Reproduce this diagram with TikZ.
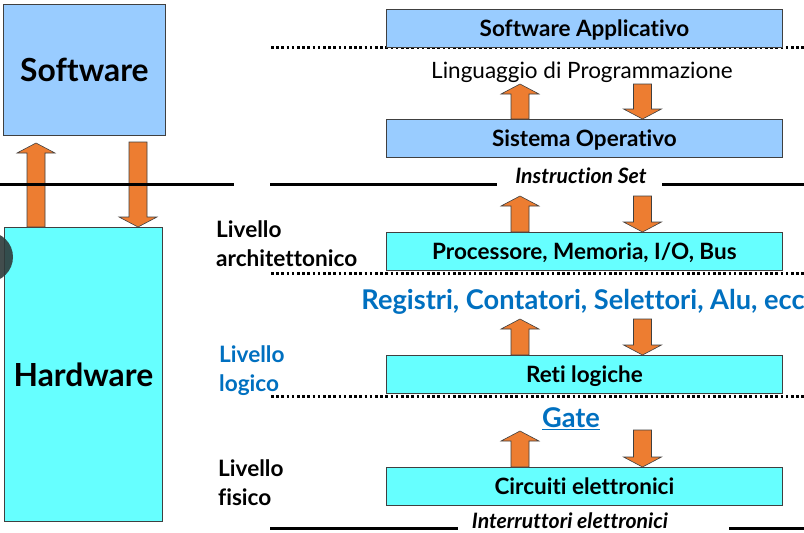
\documentclass[tikz,border=0pt]{standalone}
\usepackage{fontspec}
\setmainfont{Lato}[Ligatures=NoCommon]
\definecolor{swblue}{HTML}{99CCFF}
\definecolor{hwcyan}{HTML}{66FFFF}
\definecolor{arrorange}{HTML}{ED7D31}
\definecolor{txtblue}{HTML}{0070C0}
\definecolor{edgegray}{HTML}{404040}
\definecolor{blobgray}{HTML}{2E3A3A}
\tikzset{
 box/.style={draw=edgegray, line width=0.8pt, minimum width=396pt, minimum height=38pt, anchor=north west, inner sep=0pt, text height=18pt, text depth=2pt, font=\bfseries\fontsize{22.5}{26}\selectfont},
 swbox/.style={box, fill=swblue},
 hwbox/.style={box, fill=hwcyan},
 bigbox/.style={draw=edgegray, line width=0.8pt, anchor=north west, inner sep=0pt, font=\bfseries\fontsize{31.8}{36}\selectfont},
 blockarrow/.style={fill=arrorange, draw=edgegray, line width=0.6pt, line join=miter},
 dotline/.style={line width=2.6pt, dash pattern=on 2.6pt off 2.6pt},
 solidline/.style={line width=3pt},
 sidelabel/.style={anchor=north west, align=left, inner sep=0pt, font=\bfseries\fontsize{22.6}{29}\selectfont},
}
\newcommand\blkup[3]{\filldraw[blockarrow] (#1-9,#2) -- (#1-9,#3+10) -- (#1-19,#3+10) -- (#1,#3) -- (#1+19,#3+10) -- (#1+9,#3+10) -- (#1+9,#2) -- cycle;}
\newcommand\blkdown[3]{\filldraw[blockarrow] (#1-9,#2) -- (#1-9,#3-10) -- (#1-19,#3-10) -- (#1,#3) -- (#1+19,#3-10) -- (#1+9,#3-10) -- (#1+9,#2) -- cycle;}
\begin{document}
\begin{tikzpicture}[x=1pt,y=-1pt]
\useasboundingbox (0,0) rectangle (804,533);
\fill[white] (0,0) rectangle (804,533);
% left column
\node[bigbox, fill=swblue, minimum width=162pt, minimum height=131pt] (sw) at (3,4) {Software};
\node[bigbox, fill=hwcyan, minimum width=158pt, minimum height=294pt] (hw) at (4,227) {Hardware};
\blkup{36}{227}{143}
\blkdown{138}{142}{227}
% lines
\draw[solidline] (0,184) -- (234,184);
\draw[solidline] (270,184) -- (497,184);
\draw[solidline] (662,184) -- (804,184);
\draw[solidline] (270,528) -- (458,528);
\draw[solidline] (729,528) -- (804,528);
\draw[dotline] (271,47.5) -- (804,47.5);
\draw[dotline] (271,273.5) -- (804,273.5);
\draw[dotline] (271,396.5) -- (804,396.5);
% right boxes
\node[swbox] (sa) at (386,9) {Software Applicativo};
\node[swbox] (so) at (386,119) {Sistema Operativo};
\node[hwbox] (pm) at (386,232) {Processore, Memoria, I/O, Bus};
\node[hwbox] (rl) at (386,355) {Reti logiche};
\node[hwbox] (ce) at (386,467) {Circuiti elettronici};
% texts
\node[font=\fontsize{22.5}{26}\selectfont] (lp) at (582,72) {Linguaggio di Programmazione};
\node[font=\bfseries\itshape\fontsize{21.2}{24}\selectfont] (is) at (581,176) {Instruction Set};
\node[text=txtblue, font=\bfseries\fontsize{27.2}{30}\selectfont] (reg) at (583,302) {Registri, Contatori, Selettori, Alu, ecc};
\node[text=txtblue, font=\bfseries\fontsize{27.2}{30}\selectfont] (gate) at (571,419) {\underline{Gate}};
\node[font=\bfseries\itshape\fontsize{21.2}{24}\selectfont] (ie) at (570,521) {Interruttori elettronici};
% side labels
\node[sidelabel] (la) at (216,221) {Livello\\architettonico};
\node[sidelabel, text=txtblue] (ll) at (219,345.5) {Livello\\logico};
\node[sidelabel] (lf) at (218,459.5) {Livello\\fisico};
% arrows
\blkup{520}{119}{84}
\blkdown{642.5}{84}{119}
\blkup{520}{232}{196}
\blkdown{642.5}{196}{232}
\blkup{520}{355}{319}
\blkdown{642.5}{319}{355}
\blkup{520}{467}{431}
\blkdown{642.5}{430}{467}
% dark blob at the left edge
\fill[blobgray, opacity=0.9] (-12,257) circle (25);
\end{tikzpicture}
\end{document}
